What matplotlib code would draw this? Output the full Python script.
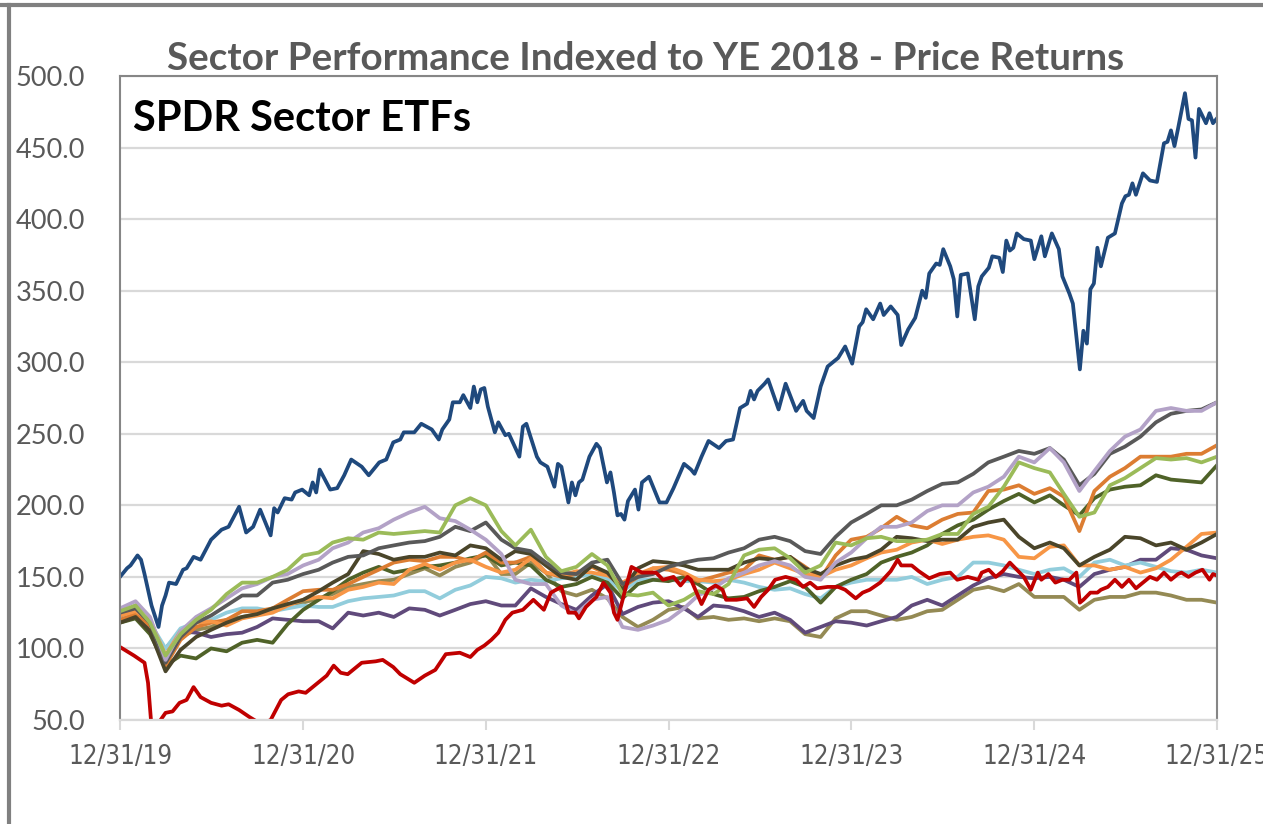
import numpy as np
import pandas as pd
import matplotlib
matplotlib.use('Agg')
import matplotlib.pyplot as plt
import matplotlib.dates as mdates
from matplotlib import font_manager
from matplotlib.lines import Line2D

# weekly series stored as (week number since 12/31/19, index value)
tech = [(0,150),(2,156),(3,158),(5,165),(6,162),(7,152),(8,141),(9,130),(11,115),(12,130),(13,137),
        (14,146),(16,145),(18,155),(19,156),(21,164),(23,162),(26,176),(29,183),(31,185),(34,199),
        (36,181),(38,185),(40,197),(43,179),(44,198),(45,195),(47,205),(49,204),(50,209),(52,211),
        (54,207),(55,216),(56,209),(57,225),(60,211),(62,212),(64,221),(66,232),(69,227),(71,221),
        (74,230),(76,232),(78,244),(80,246),(81,251),(84,251),(86,257),(89,253),(91,246),(92,253),
        (94,260),(95,272),(97,272),(98,277),(100,268),(101,283),(102,272),(103,281),(104,282),
        (105,269),(107,251),(108,258),(110,249),(111,250),(114,234),(115,255),(116,257),(119,234),
        (120,230),(122,227),(124,213),(125,229),(126,227),(128,202),(129,216),(130,207),(131,216),
        (132,218),(134,234),(136,243),(137,240),(139,216),(140,223),(141,209),(142,193),(143,194),
        (144,190),(145,203),(147,211),(148,197),(149,216),(151,220),(154,202),(156,202),(158,212),
        (161,229),(163,225),(164,222),(166,234),(168,245),(171,240),(173,245),(175,246),(177,268),
        (179,271),(180,280),(181,274),(182,280),(184,285),(185,288),(188,267),(190,285),(193,266),
        (195,273),(196,266),(198,261),(200,283),(202,297),(205,303),(207,311),(209,299),(211,325),
        (212,328),(213,337),(215,330),(217,341),(218,333),(220,339),(222,333),(223,312),(225,323),
        (227,331),(229,350),(230,345),(231,362),(233,369),(234,368),(235,379),(237,367),(238,358),
        (239,332),(240,361),(242,362),(244,330),(245,353),(246,360),(248,366),(249,374),(251,373),
        (252,363),(253,385),(254,378),(255,380),(256,390),(258,386),(260,385),(261,372),(262,380),
        (263,388),(264,374),(266,390),(268,379),(269,360),(271,348),(272,341),(274,295),(275,322),
        (276,313),(277,351),(278,355),(279,380),(280,367),(282,387),(284,390),(286,411),(287,416),
        (288,417),(289,425),(290,417),(292,432),(294,427),(296,426),(298,453),(299,454),(300,462),
        (301,451),(302,463),(304,488),(305,470),(306,469),(307,443),(308,477),(310,467),(311,474),
        (312,467),(313,470)]

energy = [(0,101),(4,95),(7,90),(8,76),(9,45),(10,42),(11,48),(13,55),(15,56),(17,62),(19,64),
          (21,73),(23,66),(26,62),(29,60),(31,61),(34,57),(37,52),(39,49),(42,49),(43,50),(46,64),
          (48,68),(51,70),(53,69),(55,73),(59,81),(61,88),(63,83),(65,82),(69,90),(73,91),(75,92),
          (78,87),(80,82),(84,76),(87,81),(90,85),(93,96),(97,97),(100,94),(102,99),(104,102),
          (106,106),(108,111),(110,120),(112,125),(115,127),(118,134),(121,127),(123,139),(126,143),
          (128,125),(130,125),(131,121),(133,129),(136,136),(138,146),(140,139),(141,125),(142,120),
          (144,139),(146,157),(149,153),(153,153),(155,148),(158,150),(160,144),(162,150),(163,148),
          (166,131),(168,141),(170,144),(172,141),(173,134),(176,134),(179,135),(181,129),(183,136),
          (185,141),(187,148),(190,150),(193,148),(195,143),(197,146),(199,142),(202,143),(205,143),
          (207,141),(210,135),(212,139),(214,141),(217,146),(220,154),(222,162),(223,158),(226,158),
          (228,154),(231,149),(234,152),(237,153),(239,148),(242,150),(245,148),(246,153),(248,155),
          (250,150),(252,154),(254,160),(256,155),(258,150),(260,141),(262,153),(263,148),(265,152),
          (267,146),(269,148),(271,148),(273,153),(274,132),(275,134),(277,139),(279,139),(280,141),
          (282,143),(284,148),(286,143),(288,148),(290,142),(292,146),(294,150),(296,148),(298,153),
          (300,148),(302,152),(303,153),(305,150),(307,153),(309,155),(311,148),(312,152),(313,151)]

# month-end series, Dec 2019 then one row per year
light_green = [126,
    130,118, 95,110,120,127,138,146,146,150,155,165,
    167,174,177,176,181,180,181,182,181,200,205,200,
    182,172,183,164,154,157,166,158,138,137,139,130,
    134,140,138,145,165,169,170,163,153,158,174,172,
    177,178,175,175,176,180,180,194,199,213,230,226,
    223,208,192,195,214,219,226,233,232,233,230,234]
lavender = [128,
    133,122, 92,112,122,128,135,142,145,150,152,158,
    162,170,174,181,184,190,195,199,191,189,183,176,
    166,148,145,145,130,124,134,136,115,113,116,120,
    128,137,142,149,153,158,161,158,150,148,160,167,
    177,185,185,188,196,200,200,209,213,220,234,230,
    240,230,210,224,238,248,253,266,268,266,266,272]
dark_gray = [125,
    128,118, 90,108,118,123,130,137,137,146,148,152,
    155,160,164,165,170,172,174,175,178,185,182,188,
    176,170,168,160,153,152,160,162,145,150,152,157,
    160,162,163,167,170,176,178,175,168,166,178,188,
    194,200,200,204,210,215,216,222,230,234,238,236,
    240,232,214,222,236,241,248,258,264,266,267,272]
dark_olive = [118,
    122,112, 84, 99,108,113,118,122,124,128,131,134,
    140,146,152,168,166,162,164,164,167,165,172,170,
    162,168,166,158,150,148,158,153,141,156,161,160,
    158,155,155,155,160,163,162,164,156,152,158,162,
    164,169,178,177,175,176,176,185,188,190,178,170,
    174,170,158,164,169,178,177,172,174,169,174,180]
light_orange = [123,
    126,120, 95,112,118,119,116,121,123,125,130,134,
    136,135,141,143,146,145,155,159,155,160,162,157,
    153,155,163,153,151,154,153,151,146,152,156,157,
    153,148,147,148,152,155,160,156,152,150,155,158,
    163,167,169,174,176,173,176,178,179,176,164,163,
    171,172,158,158,155,157,153,156,162,171,180,181]
dark_orange = [120,
    124,116, 88,106,115,118,120,126,126,128,134,140,
    141,141,145,150,155,160,162,161,164,164,161,167,
    160,160,164,153,150,152,157,152,143,150,156,155,
    152,147,150,153,155,165,162,164,157,149,165,176,
    178,184,192,186,184,190,194,195,210,211,214,208,
    212,206,182,210,220,226,234,234,234,236,236,242]
dark_green = [118,
    121,110, 88, 95, 93,100, 98,104,106,104,117,127,
    134,140,148,153,157,153,155,157,158,160,163,165,
    158,160,158,148,143,145,150,146,135,145,148,147,
    150,145,138,135,136,140,143,147,143,132,143,148,
    152,160,164,167,172,180,186,190,197,203,208,202,
    207,200,193,205,211,213,214,221,218,217,216,228]
light_blue = [120,
    125,118,100,114,118,120,125,128,128,126,128,130,
    129,129,133,135,136,137,140,140,135,141,144,150,
    149,146,148,147,149,150,152,149,140,148,148,148,
    147,147,146,148,146,143,141,142,138,135,143,146,
    148,148,148,150,145,148,150,160,160,158,155,152,
    155,156,150,160,162,158,160,157,154,153,155,153]
purple = [122,
    130,112,100,112,111,108,110,111,115,121,120,119,
    119,114,125,123,125,122,128,127,123,127,131,133,
    130,130,142,136,131,127,137,145,124,129,132,133,
    128,122,130,129,126,122,125,120,111,115,119,118,
    116,119,122,130,134,130,137,144,149,152,150,149,
    150,148,143,152,155,157,162,162,170,169,165,163]
khaki = [122,
    126,118, 90,108,113,115,120,122,124,128,131,132,
    135,138,143,145,147,148,152,156,151,157,160,166,
    152,152,160,153,140,137,141,135,122,115,120,127,
    129,121,122,120,121,119,121,119,110,108,121,126,
    126,123,120,122,126,127,134,141,143,140,145,136,
    136,136,127,134,136,136,139,139,137,134,134,132]

tick_dates = ['2019-12-31', '2020-12-31', '2021-12-31', '2022-12-31',
              '2023-12-31', '2024-12-31', '2025-12-31']

start = pd.Timestamp('2019-12-31')
months = pd.date_range(start, periods=73, freq='ME')

def weekly(pairs):
    wk = np.array([p[0] for p in pairs])
    val = np.array([p[1] for p in pairs], dtype=float)
    return start + pd.to_timedelta(wk * 7, unit='D'), val

# narrow face for the date labels if one is installed
xfont = dict(family='Lato', size=18)
for f in font_manager.fontManager.ttflist:
    if f.name == 'Liberation Sans Narrow' and f.weight in (400, 'normal', 'regular'):
        xfont = dict(family='Liberation Sans Narrow', size=21)
        break
    if f.name == 'DejaVu Sans' and f.stretch == 'condensed' and f.weight in (400, 'normal', 'book'):
        xfont = dict(family='DejaVu Sans', stretch='condensed', size=18.5)

fig = plt.figure(figsize=(12.63, 8.24), dpi=100)
ax = fig.add_axes([120/1263, 1-720/824, 1097/1263, 644/824])

lw = 2.7
monthly = [
    (khaki, '#948A54'),
    (purple, '#604A7B'),
    (light_blue, '#92CDDC'),
    (dark_green, '#4F6228'),
    (dark_orange, '#DC7D32'),
    (light_orange, '#F79646'),
    (dark_olive, '#4A452A'),
    (dark_gray, '#595959'),
    (lavender, '#B3A2C7'),
    (light_green, '#9BBB59'),
]
for vals, c in monthly:
    ax.plot(months, vals, color=c, lw=lw, solid_joinstyle='round')

d, v = weekly(energy)
ax.plot(d, v, color='#C00000', lw=lw, solid_joinstyle='round')
d, v = weekly(tech)
ax.plot(d, v, color='#1F497D', lw=lw, solid_joinstyle='round')

ax.set_ylim(50, 500)
ax.set_yticks(np.arange(50, 501, 50))
ax.set_yticklabels([f'{t:.1f}' for t in np.arange(50, 501, 50)])
ax.set_xlim(pd.Timestamp(tick_dates[0]), pd.Timestamp(tick_dates[-1]))
ax.set_xticks(pd.to_datetime(tick_dates))
ax.xaxis.set_major_formatter(mdates.DateFormatter('%m/%d/%y'))

ax.grid(axis='y', color='#D9D9D9', lw=1.6)
ax.set_axisbelow(True)
for s in ['left', 'right', 'top']:
    ax.spines[s].set_color('#868686')
    ax.spines[s].set_linewidth(1.5)
ax.spines['bottom'].set_color('#D9D9D9')
ax.spines['bottom'].set_linewidth(1.6)

ax.tick_params(axis='y', length=0, pad=25, labelsize=19.5, labelcolor='#595959')
ax.tick_params(axis='x', direction='out', length=7, width=1.5, color='#D9D9D9',
               pad=10, labelcolor='#595959')
for lab in ax.get_yticklabels():
    lab.set_fontfamily('Lato')
for lab in ax.get_xticklabels():
    lab.set_fontfamily(xfont['family'])
    lab.set_fontsize(xfont['size'])
    if 'stretch' in xfont:
        lab.set_fontstretch(xfont['stretch'])

fig.text(0.511, 1-70/824, 'Sector Performance Indexed to YE 2018 - Price Returns',
         ha='center', va='baseline', fontsize=27.8, fontweight='bold', color='#595959',
         family='Lato')
fig.text(133/1263, 1-131/824, 'SPDR Sector ETFs', ha='left', va='baseline',
         fontsize=30, fontweight='bold', color='black', family='Lato')

# outer frame of the cropped chart
fig.add_artist(Line2D([0, 1], [1-5/824, 1-5/824], color='#808080', lw=3))
fig.add_artist(Line2D([9/1263, 9/1263], [0, 1-5/824], color='#808080', lw=3))

fig.savefig('out.png', dpi=100)
